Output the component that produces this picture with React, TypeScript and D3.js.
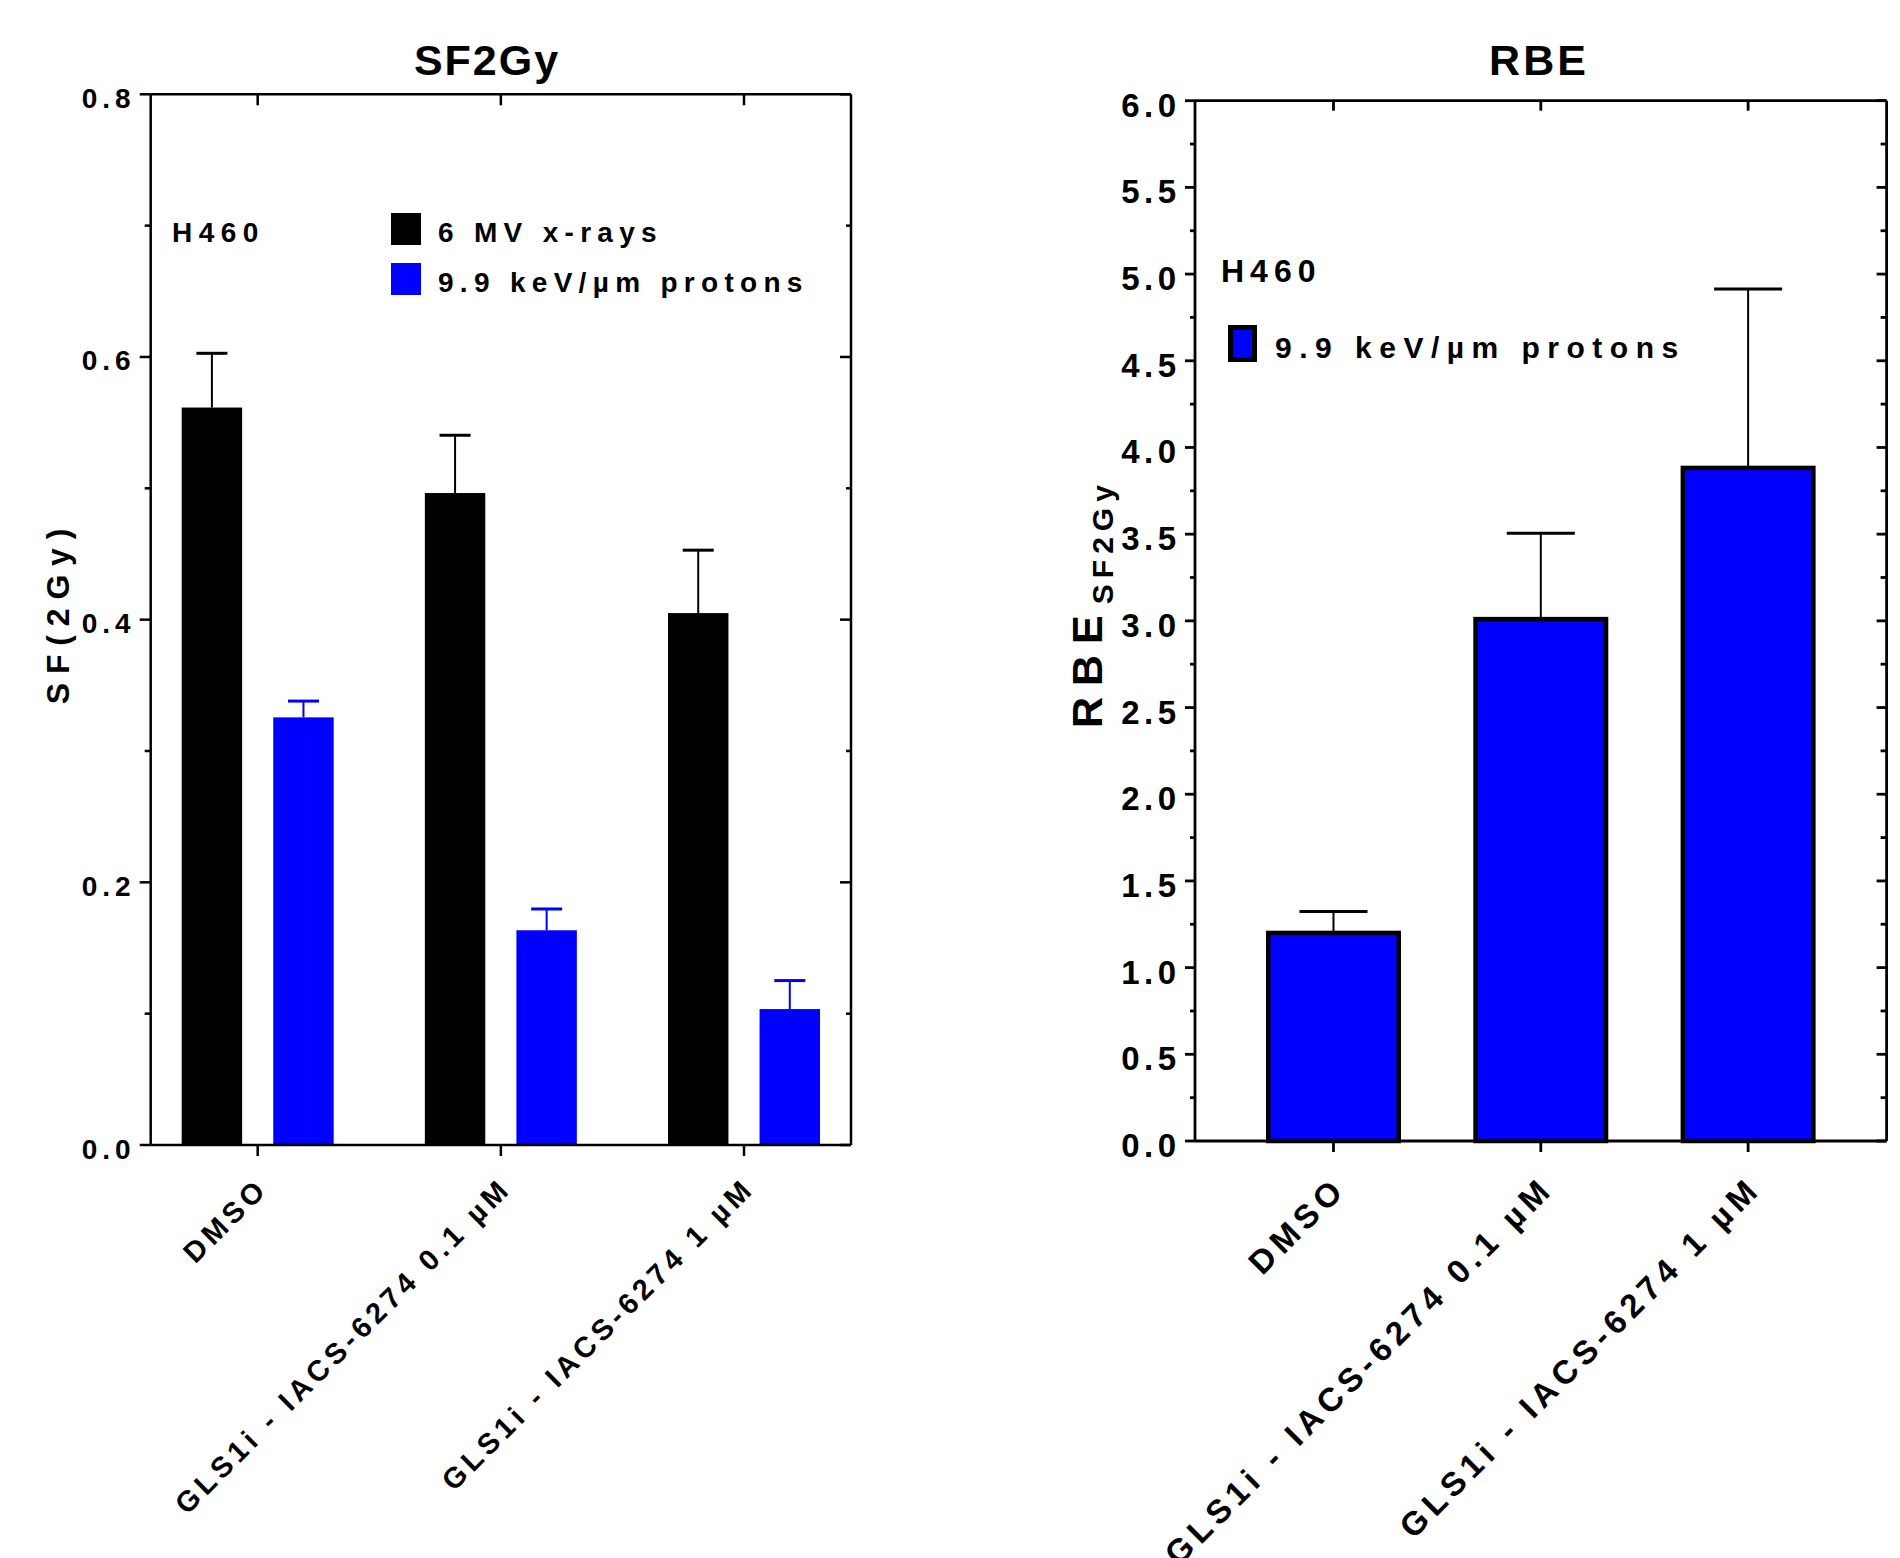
import React from "react";
import * as d3 from "d3";

// ---------- data ----------
const categories = ["DMSO", "GLS1i - IACS-6274 0.1 µM", "GLS1i - IACS-6274 1 µM"];
const sfSeriesNames = ["6 MV x-rays", "9.9 keV/µm protons"];
const sfXrays = [0.5615, 0.4964, 0.405];
const sfXraysErr = [0.0413, 0.044, 0.0479];
const sfProtons = [0.3256, 0.1635, 0.1035];
const sfProtonsErr = [0.0124, 0.0162, 0.0217];
const rbeSeriesName = "9.9 keV/µm protons";
const rbeProtons = [1.2, 3.01, 3.882];
const rbeProtonsErr = [0.124, 0.495, 1.032];
const sfTicks = [0, 0.2, 0.4, 0.6, 0.8];
const sfMinorTicks = [0.1, 0.3, 0.5, 0.7];
const rbeTicks = [0, 0.5, 1, 1.5, 2, 2.5, 3, 3.5, 4, 4.5, 5, 5.5, 6];
const rbeMinorTicks = [0.25, 0.75, 1.25, 1.75, 2.25, 2.75, 3.25, 3.75, 4.25, 4.75, 5.25, 5.75];
const cellLine = "H460";

const FONT = "'Liberation Sans', Arial, Helvetica, sans-serif";
const BLUE = "#0000ff";
const BLACK = "#000000";

function SFChart() {
  const L = { left: 150.7, right: 851, top: 94.3, bottom: 1145 };
  const y = d3.scaleLinear().domain([0, 0.8]).range([L.bottom, L.top]);
  const x = d3.scalePoint<string>().domain(categories).range([L.left, L.right]).padding(0.44);
  const xs = d3.scaleBand<string>().domain(["x", "p"]).range([-76, 76]).paddingInner(0.34);
  const series = [
    { key: "x", color: BLACK, values: sfXrays, errs: sfXraysErr },
    { key: "p", color: BLUE, values: sfProtons, errs: sfProtonsErr },
  ];
  const fmt = d3.format(".1f");
  const aw = 2.5;
  return (
    <g fontFamily={FONT} fontWeight="bold" fill={BLACK}>
      <text x={487} y={74.5} textAnchor="middle" fontSize={43} letterSpacing={2}>SF2Gy</text>
      {/* bars */}
      {series.map((s) =>
        categories.map((c, i) => {
          const cx = (x(c) as number) + (xs(s.key) as number);
          const bw = xs.bandwidth();
          const top = y(s.values[i]);
          const et = y(s.values[i] + s.errs[i]);
          return (
            <g key={s.key + c}>
              <rect x={cx} y={top} width={bw} height={y(0) - top} fill={s.color} />
              <line x1={cx + bw / 2} x2={cx + bw / 2} y1={top} y2={et} stroke={s.color} strokeWidth={2} />
              <line x1={cx + bw / 2 - 15.5} x2={cx + bw / 2 + 15.5} y1={et} y2={et} stroke={s.color} strokeWidth={3} />
            </g>
          );
        })
      )}
      {/* frame */}
      <line x1={L.left} x2={L.left} y1={L.top} y2={L.bottom} stroke={BLACK} strokeWidth={aw} />
      <line x1={L.right} x2={L.right} y1={L.top} y2={L.bottom} stroke={BLACK} strokeWidth={aw} />
      <line x1={L.left} x2={L.right} y1={L.top} y2={L.top} stroke={BLACK} strokeWidth={aw} />
      <line x1={L.left} x2={L.right} y1={L.bottom} y2={L.bottom} stroke={BLACK} strokeWidth={aw} />
      {sfTicks.map((t) => (
        <g key={"t" + t}>
          <line x1={L.left - 11} x2={L.left} y1={y(t)} y2={y(t)} stroke={BLACK} strokeWidth={aw} />
          <line x1={L.right - 11} x2={L.right} y1={y(t)} y2={y(t)} stroke={BLACK} strokeWidth={aw} />
          <text x={L.left - 15} y={y(t) + 13.5} textAnchor="end" fontSize={28} letterSpacing={5}>{fmt(t)}</text>
        </g>
      ))}
      {sfMinorTicks.map((t) => (
        <g key={"m" + t}>
          <line x1={L.left - 6} x2={L.left} y1={y(t)} y2={y(t)} stroke={BLACK} strokeWidth={aw} />
          <line x1={L.right - 5} x2={L.right} y1={y(t)} y2={y(t)} stroke={BLACK} strokeWidth={aw} />
        </g>
      ))}
      {categories.map((c) => (
        <g key={"c" + c}>
          <line x1={x(c)} x2={x(c)} y1={L.top} y2={L.top + 11} stroke={BLACK} strokeWidth={aw} />
          <line x1={x(c)} x2={x(c)} y1={L.bottom} y2={L.bottom + 11} stroke={BLACK} strokeWidth={aw} />
          <text
            transform={`translate(${(x(c) as number) + 12},${L.bottom + 45}) rotate(-45)`}
            textAnchor="end"
            fontSize={29}
            letterSpacing={4.6}
          >
            {c}
          </text>
        </g>
      ))}
      {/* y title */}
      <text transform={`translate(69,612) rotate(-90)`} textAnchor="middle" fontSize={32} letterSpacing={8.8}>SF(2Gy)</text>
      {/* labels & legend */}
      <text x={172} y={241.5} fontSize={28} letterSpacing={6.5}>{cellLine}</text>
      <rect x={391} y={213} width={30} height={32} fill={BLACK} />
      <text x={438} y={241.7} fontSize={28} letterSpacing={6.3}>{sfSeriesNames[0]}</text>
      <rect x={391} y={263} width={30} height={32} fill={BLUE} />
      <text x={438} y={292} fontSize={28} letterSpacing={6.3}>{sfSeriesNames[1]}</text>
    </g>
  );
}

function RBEChart() {
  const R = { left: 1195, right: 1886.6, top: 100.7, bottom: 1141 };
  const y = d3.scaleLinear().domain([0, 6]).range([R.bottom, R.top]);
  const x = d3.scalePoint<string>().domain(categories).range([R.left, R.right]).padding(0.668);
  const fmt = d3.format(".1f");
  const aw = 2.8;
  const bw = 130.5;
  return (
    <g fontFamily={FONT} fontWeight="bold" fill={BLACK}>
      <text x={1539} y={74.5} textAnchor="middle" fontSize={43} letterSpacing={3}>RBE</text>
      {categories.map((c, i) => {
        const cx = x(c) as number;
        const top = y(rbeProtons[i]);
        const et = y(rbeProtons[i] + rbeProtonsErr[i]);
        return (
          <g key={"b" + c}>
            <line x1={cx} x2={cx} y1={top} y2={et} stroke={BLACK} strokeWidth={2} />
            <line x1={cx - 34} x2={cx + 34} y1={et} y2={et} stroke={BLACK} strokeWidth={3} />
            <rect x={cx - bw / 2} y={top} width={bw} height={y(0) - top} fill={BLUE} stroke={BLACK} strokeWidth={4.5} />
          </g>
        );
      })}
      <line x1={R.left} x2={R.left} y1={R.top} y2={R.bottom} stroke={BLACK} strokeWidth={aw} />
      <line x1={R.right} x2={R.right} y1={R.top} y2={R.bottom} stroke={BLACK} strokeWidth={aw} />
      <line x1={R.left} x2={R.right} y1={R.top} y2={R.top} stroke={BLACK} strokeWidth={aw} />
      <line x1={R.left} x2={R.right} y1={R.bottom} y2={R.bottom} stroke={BLACK} strokeWidth={aw} />
      {rbeTicks.map((t) => (
        <g key={"t" + t}>
          <line x1={R.left - 10} x2={R.left} y1={y(t)} y2={y(t)} stroke={BLACK} strokeWidth={aw} />
          <line x1={R.right - 10} x2={R.right} y1={y(t)} y2={y(t)} stroke={BLACK} strokeWidth={aw} />
          <text x={R.left - 14.5} y={y(t) + 16} textAnchor="end" fontSize={33} letterSpacing={4.5}>{fmt(t)}</text>
        </g>
      ))}
      {rbeMinorTicks.map((t) => (
        <g key={"m" + t}>
          <line x1={R.left - 5} x2={R.left} y1={y(t)} y2={y(t)} stroke={BLACK} strokeWidth={aw} />
          <line x1={R.right - 6} x2={R.right} y1={y(t)} y2={y(t)} stroke={BLACK} strokeWidth={aw} />
        </g>
      ))}
      {categories.map((c) => (
        <g key={"c" + c}>
          <line x1={x(c)} x2={x(c)} y1={R.top} y2={R.top + 10} stroke={BLACK} strokeWidth={aw} />
          <line x1={x(c)} x2={x(c)} y1={R.bottom} y2={R.bottom + 11} stroke={BLACK} strokeWidth={aw} />
          <text
            transform={`translate(${(x(c) as number) + 14.7},${R.bottom + 49.4}) rotate(-45)`}
            textAnchor="end"
            fontSize={33}
            letterSpacing={5.6}
          >
            {c}
          </text>
        </g>
      ))}
      <text transform={`translate(1101.7,728) rotate(-90)`} textAnchor="start">
        <tspan fontSize={43} letterSpacing={11}>RBE</tspan>
        <tspan fontSize={30} letterSpacing={6} dy={11.6}>SF2Gy</tspan>
      </text>
      <text x={1221} y={281.7} fontSize={32} letterSpacing={6}>{cellLine}</text>
      <rect x={1230.5} y={327.5} width={24} height={32} fill={BLUE} stroke={BLACK} strokeWidth={5} />
      <text x={1275} y={358} fontSize={30} letterSpacing={7.5}>{rbeSeriesName}</text>
    </g>
  );
}

export default function App() {
  return (
    <svg
      width={1900}
      height={1558}
      viewBox="0 0 1900 1558"
      style={{ position: "absolute", left: 0, top: 0, background: "#fff" }}
    >
      <rect width={1900} height={1558} fill="#fff" />
      <SFChart />
      <RBEChart />
    </svg>
  );
}
